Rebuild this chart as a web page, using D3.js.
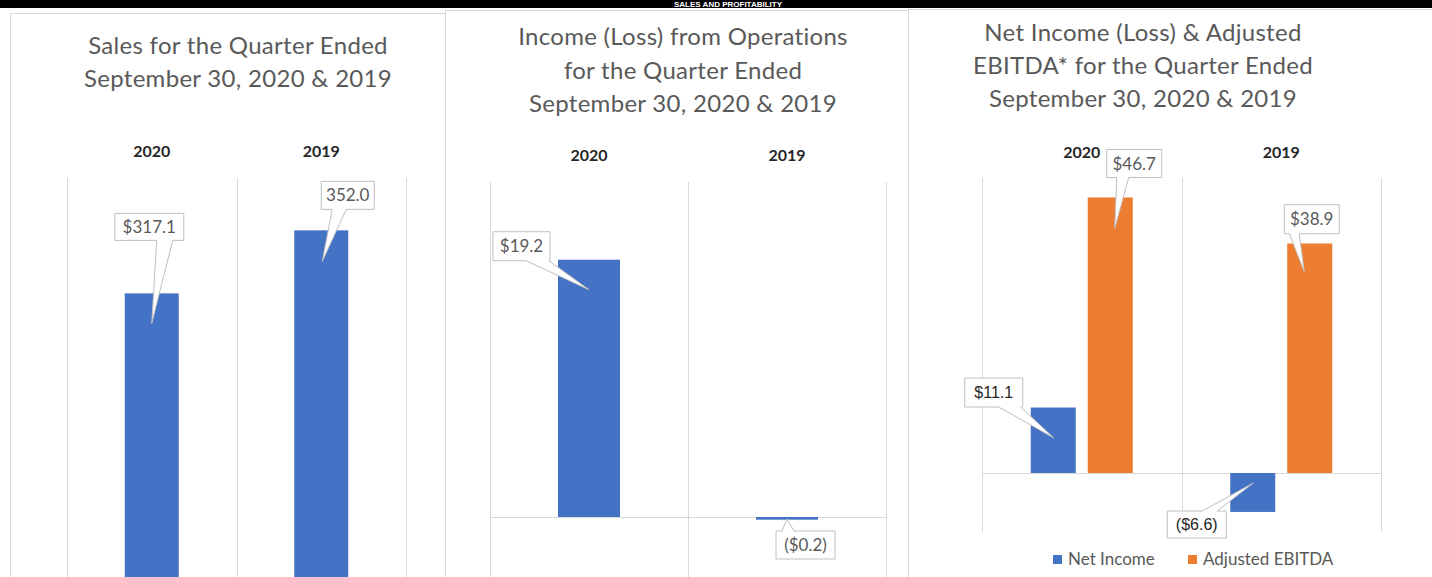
<!DOCTYPE html>
<html>
<head>
<meta charset="utf-8">
<script src="https://cdn.jsdelivr.net/npm/d3@7"></script>
<style>
  body { margin: 0; background: #fff; }
  svg { display: block; }
</style>
</head>
<body>
<script>
//============ Data ============//
var categories = ['2020', '2019'];

var salesValues = [317.1, 352.0];
var salesLabels = ['$317.1', '352.0'];

var opsValues = [19.2, -0.2];
var opsLabels = ['$19.2', '($0.2)'];

var seriesNames = ['Net Income', 'Adjusted EBITDA'];
var netIncomeValues = [11.1, -6.6];
var netIncomeLabels = ['$11.1', '($6.6)'];
var ebitdaValues = [46.7, 38.9];
var ebitdaLabels = ['$46.7', '$38.9'];

//============ Styles ============//
var blue = '#4472C4',
  orange = '#ED7D31',
  gridColor = '#d9d9d9',
  titleColor = '#595959',
  catColor = '#262626',
  calloutStroke = '#bfbfbf',
  mainFont = 'Lato, "Noto Sans", sans-serif',
  arialFont = '"Liberation Sans", Arial, sans-serif';

var W = 1432, H = 577;

var svg = d3.select('body').append('svg')
  .attr('width', W)
  .attr('height', H);

// black banner at top
svg.append('rect').attr('x', 0).attr('y', 0).attr('width', W).attr('height', 8).attr('fill', '#000');
svg.append('text')
  .attr('x', 728).attr('y', 7)
  .attr('text-anchor', 'middle')
  .style('font-family', arialFont)
  .style('font-weight', 'bold')
  .style('font-size', '8px')
  .style('fill', '#fff')
  .text('SALES AND PROFITABILITY');

// panel frames
var frames = [
  {x: 10.5, y: 13.5, w: 435},
  {x: 445.5, y: 10.5, w: 463},
  {x: 908.5, y: 9.5, w: 540}
];
frames.forEach(function(f) {
  svg.append('rect')
    .attr('x', f.x).attr('y', f.y)
    .attr('width', f.w).attr('height', H)
    .attr('fill', '#fff')
    .attr('stroke', gridColor);
});

// callout shape: box with a wedge pointing to the tip
function calloutPath(bx, by, w, h, side, b0, b1, tx, ty) {
  var l = bx - w / 2, r = bx + w / 2, t = by - h / 2, b = by + h / 2;
  if (side === 'bottom') {
    return 'M' + l + ',' + t + 'H' + r + 'V' + b + 'H' + (bx + b1) +
      'L' + tx + ',' + ty + 'L' + (bx + b0) + ',' + b + 'H' + l + 'Z';
  }
  // top
  return 'M' + l + ',' + t + 'H' + (bx + b0) + 'L' + tx + ',' + ty +
    'L' + (bx + b1) + ',' + t + 'H' + r + 'V' + b + 'H' + l + 'Z';
}

function drawCallout(g, cx, yv, text, c, font, color, size) {
  var bx = cx + c.bx, by = yv + c.by;
  var tx = cx + c.tx, ty = yv + c.ty;
  g.append('path')
    .attr('d', calloutPath(bx, by, c.w, c.h, c.side, c.b0, c.b1, tx, ty))
    .attr('fill', '#fff')
    .attr('stroke', calloutStroke)
    .attr('stroke-width', 1);
  g.append('text')
    .attr('x', bx).attr('y', by)
    .attr('dy', '0.36em')
    .attr('text-anchor', 'middle')
    .style('font-family', font)
    .style('font-size', size + 'px')
    .style('fill', color)
    .text(text);
}

function drawTitle(lines, cx, y0, lh) {
  svg.append('text')
    .attr('text-anchor', 'middle')
    .style('font-family', mainFont)
    .style('font-size', '24px')
    .style('letter-spacing', '0.3px')
    .style('fill', titleColor)
    .selectAll('tspan')
    .data(lines)
    .enter().append('tspan')
    .attr('x', cx)
    .attr('y', function(d, i) { return y0 + i * lh; })
    .text(function(d) { return d; });
}

// generic panel: category gridlines, category labels, zero line, bars
function drawPanel(opt) {
  var g = svg.append('g');
  var x0 = d3.scaleBand().domain(categories).range(opt.xRange).padding(0);
  var x1 = d3.scaleBand().domain(opt.series.map(function(s) { return s.name; }))
    .range([opt.groupPad, x0.bandwidth() - opt.groupPad])
    .paddingInner(opt.innerPad);
  var y = d3.scaleLinear().domain(opt.yDomain).range(opt.yRange);

  // vertical category gridlines
  var bounds = categories.map(function(c) { return x0(c); }).concat([opt.xRange[1]]);
  g.selectAll('.vgrid').data(bounds).enter().append('line')
    .attr('x1', function(d) { return Math.round(d) + 0.5; })
    .attr('x2', function(d) { return Math.round(d) + 0.5; })
    .attr('y1', opt.gridTop).attr('y2', opt.gridBottom)
    .attr('stroke', gridColor);

  // zero line
  if (y(0) < H) {
    g.append('line')
      .attr('x1', opt.xRange[0]).attr('x2', opt.xRange[1])
      .attr('y1', Math.round(y(0)) + 0.5).attr('y2', Math.round(y(0)) + 0.5)
      .attr('stroke', gridColor);
  }

  // category labels on top
  g.selectAll('.cat').data(categories).enter().append('text')
    .attr('x', function(d) { return x0(d) + x0.bandwidth() / 2; })
    .attr('y', opt.catY)
    .attr('text-anchor', 'middle')
    .style('font-family', mainFont)
    .style('font-weight', 'bold')
    .style('font-size', '16px')
    .style('fill', catColor)
    .text(function(d) { return d; });

  // bars
  opt.series.forEach(function(s) {
    categories.forEach(function(c, i) {
      var v = s.values[i];
      g.append('rect')
        .attr('x', x0(c) + x1(s.name))
        .attr('width', x1.bandwidth())
        .attr('y', Math.min(y(v), y(0)))
        .attr('height', Math.abs(y(v) - y(0)))
        .attr('fill', s.color);
    });
  });

  // callouts
  opt.series.forEach(function(s) {
    categories.forEach(function(c, i) {
      var v = s.values[i];
      var cx = x0(c) + x1(s.name) + x1.bandwidth() / 2;
      drawCallout(g, cx, y(v), s.labels[i], s.callouts[i], s.font, s.textColor, s.fontSize);
    });
  });
}

//============ Panel 1: Sales ============//
drawTitle(['Sales for the Quarter Ended', 'September 30, 2020 & 2019'], 238, 54, 33);
drawPanel({
  xRange: [67, 406],
  groupPad: 57.75,
  innerPad: 0,
  yDomain: [0, 381],
  yRange: [866, 178],
  gridTop: 178, gridBottom: H,
  catY: 157,
  series: [{
    name: 'Sales', values: salesValues, labels: salesLabels, color: blue,
    font: mainFont, textColor: titleColor, fontSize: 17,
    callouts: [
      {bx: -2.5, by: -66.5, w: 69, h: 27, side: 'bottom', b0: 7.5, b1: 23.5, tx: 0, ty: 30},
      {bx: 26.5, by: -35, w: 53, h: 28, side: 'bottom', b0: -15.5, b1: -1.5, tx: 1, ty: 31}
    ]
  }]
});

//============ Panel 2: Income from Operations ============//
drawTitle(['Income (Loss) from Operations', 'for the Quarter Ended', 'September 30, 2020 & 2019'], 683, 45, 33.5);
drawPanel({
  xRange: [490, 886],
  groupPad: 68,
  innerPad: 0,
  yDomain: [-5, 25],
  yRange: [584, 182],
  gridTop: 182, gridBottom: H,
  catY: 161,
  series: [{
    name: 'Ops', values: opsValues, labels: opsLabels, color: blue,
    font: mainFont, textColor: titleColor, fontSize: 17,
    callouts: [
      {bx: -67.5, by: -13.5, w: 57, h: 29, side: 'bottom', b0: 4.5, b1: 27.5, tx: 0, ty: 30},
      {bx: 18.5, by: 25.3, w: 59, h: 28, side: 'top', b0: -23.5, b1: -11.5, tx: 0, ty: -0.7}
    ]
  }]
});

//============ Panel 3: Net Income & Adjusted EBITDA ============//
drawTitle(['Net Income (Loss) & Adjusted', 'EBITDA* for the Quarter Ended', 'September 30,  2020 & 2019'], 1143, 41, 33);
drawPanel({
  xRange: [982, 1381],
  groupPad: 48.75,
  innerPad: 0.21,
  yDomain: [-10, 50],
  yRange: [532, 178],
  gridTop: 178, gridBottom: 532,
  catY: 158,
  series: [{
    name: seriesNames[0], values: netIncomeValues, labels: netIncomeLabels, color: blue,
    font: arialFont, textColor: catColor, fontSize: 16,
    callouts: [
      {bx: -59.5, by: -15, w: 58, h: 29, side: 'bottom', b0: 5, b1: 27, tx: 0.5, ty: 30.4},
      {bx: -56, by: 12.6, w: 59, h: 27, side: 'top', b0: 5.5, b1: 20.5, tx: 0.5, ty: -29}
    ]
  }, {
    name: seriesNames[1], values: ebitdaValues, labels: ebitdaLabels, color: orange,
    font: mainFont, textColor: titleColor, fontSize: 17,
    callouts: [
      {bx: 24, by: -34, w: 55, h: 28, side: 'bottom', b0: -17.5, b1: -5.5, tx: 4.5, ty: 31},
      {bx: 2, by: -24.3, w: 55, h: 29, side: 'bottom', b0: -22.5, b1: -12.5, tx: -5.5, ty: 28}
    ]
  }]
});

// legend
var legendItems = [
  {name: seriesNames[0], color: blue, x: 1053},
  {name: seriesNames[1], color: orange, x: 1188}
];
var legend = svg.append('g');
legendItems.forEach(function(d) {
  legend.append('rect')
    .attr('x', d.x).attr('y', 555)
    .attr('width', 9).attr('height', 9)
    .attr('fill', d.color);
  legend.append('text')
    .attr('x', d.x + 15).attr('y', 559.5)
    .attr('dy', '0.35em')
    .style('font-family', mainFont)
    .style('font-size', '17px')
    .style('fill', titleColor)
    .text(d.name);
});
</script>
</body>
</html>
